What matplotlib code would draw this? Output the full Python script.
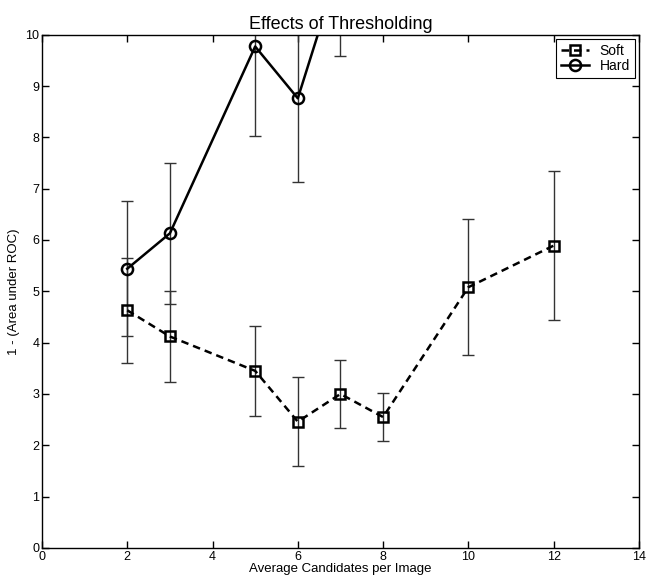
import matplotlib.pyplot as plt

plt.rcParams['font.family'] = ['Liberation Sans', 'DejaVu Sans']

# Average number of candidates per image
soft_x = [2, 3, 5, 6, 7, 8, 10, 12]
soft_y = [4.63, 4.12, 3.45, 2.46, 3.00, 2.55, 5.08, 5.89]
soft_err = [1.02, 0.88, 0.88, 0.87, 0.67, 0.46, 1.33, 1.45]

hard_x = [2, 3, 5, 6, 7]
hard_y = [5.44, 6.13, 9.77, 8.76, 11.4]
hard_err = [1.32, 1.37, 1.75, 1.63, 1.82]

fig = plt.figure(figsize=(6.46, 5.78), dpi=100)
ax = fig.add_axes([0.065, 0.052, 0.924, 0.888])

# error bars first, thin and dark grey
ax.errorbar(soft_x, soft_y, yerr=soft_err, fmt='none', ecolor='#333333',
            elinewidth=1.0, capsize=4, capthick=1.0)
ax.errorbar(hard_x, hard_y, yerr=hard_err, fmt='none', ecolor='#333333',
            elinewidth=1.0, capsize=4, capthick=1.0)

ax.plot(soft_x, soft_y, color='black', linestyle='--', dashes=(3, 2),
        linewidth=1.8, marker='s', markersize=7, markerfacecolor='none',
        markeredgewidth=1.8, label='Soft')
ax.plot(hard_x, hard_y, color='black', linestyle='-', linewidth=1.8,
        marker='o', markersize=8, markerfacecolor='none',
        markeredgewidth=1.8, label='Hard')

ax.set_xlim(0, 14)
ax.set_ylim(0, 10)
ax.set_xticks(range(0, 15, 2))
ax.set_yticks(range(0, 11))
ax.tick_params(direction='in', length=5, width=1, top=True, right=True,
               labelsize=9, pad=2)
for spine in ax.spines.values():
    spine.set_linewidth(1)

ax.set_title('Effects of Thresholding', fontsize=13, pad=4)
ax.set_xlabel('Average Candidates per Image', fontsize=9.5, labelpad=0)
ax.set_ylabel('1 - (Area under ROC)', fontsize=9.5, labelpad=4)

leg = ax.legend(loc='upper right', fontsize=10, handlelength=2.0,
                handletextpad=0.8, borderaxespad=0.3, fancybox=False,
                framealpha=1, borderpad=0.35, labelspacing=0.1)
leg.get_frame().set_edgecolor('black')
leg.get_frame().set_linewidth(0.8)

fig.savefig('out.png', dpi=100)
